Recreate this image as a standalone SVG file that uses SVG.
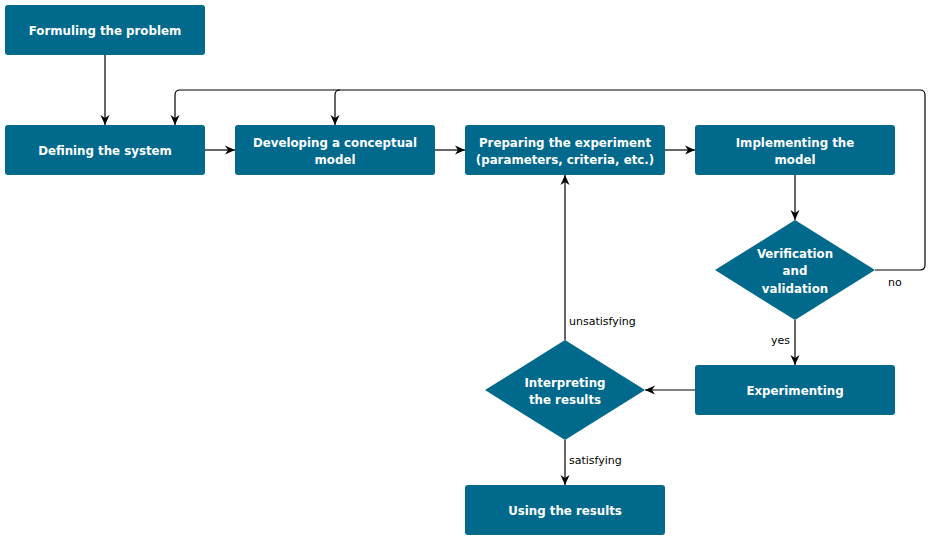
<svg xmlns="http://www.w3.org/2000/svg" width="930" height="540" viewBox="0 0 930 540">
<defs>
<marker id="arr" viewBox="0 0 10 10" refX="10" refY="5" markerWidth="10" markerHeight="10" markerUnits="userSpaceOnUse" orient="auto">
<path d="M0,0.5 L10,5 L0,9.5 L3,5 Z" fill="#000"/>
</marker>
<style>
.box{fill:#00698c;}
.t{font-family:"DejaVu Sans",sans-serif;font-size:11.8px;font-weight:bold;fill:#fff;text-anchor:middle;}
.l{font-family:"DejaVu Sans",sans-serif;font-size:11px;fill:#000;}
.c{fill:none;stroke:#000;stroke-width:1.2;}
</style>
</defs>
<rect width="930" height="540" fill="#fff"/>
<g id="connectors">
<path class="c" d="M105,55 V125" marker-end="url(#arr)"/>
<path class="c" d="M205,150 H235" marker-end="url(#arr)"/>
<path class="c" d="M435,150 H465" marker-end="url(#arr)"/>
<path class="c" d="M665,150 H695" marker-end="url(#arr)"/>
<path class="c" d="M795,175 V220" marker-end="url(#arr)"/>
<path class="c" d="M875,270 H920 Q925,270 925,265 V95 Q925,90 920,90 H180 Q175,90 175,95 V125" marker-end="url(#arr)"/>
<path class="c" d="M340,90 Q335,90 335,95 V125" marker-end="url(#arr)"/>
<path class="c" d="M795,320 V365" marker-end="url(#arr)"/>
<path class="c" d="M695,390 H645" marker-end="url(#arr)"/>
<path class="c" d="M565,340 V175" marker-end="url(#arr)"/>
<path class="c" d="M565,440 V485" marker-end="url(#arr)"/>
<text class="l" x="888" y="286">no</text>
<text class="l" x="771" y="344">yes</text>
<text class="l" x="569" y="325">unsatisfying</text>
<text class="l" x="569" y="464">satisfying</text>
</g>
<g id="n1"><rect class="box" x="5" y="5" width="200" height="50" rx="3"/><text class="t" x="105" y="35">Formuling the problem</text></g>
<g id="n2"><rect class="box" x="5" y="125" width="200" height="50" rx="3"/><text class="t" x="105" y="155">Defining the system</text></g>
<g id="n3"><rect class="box" x="235" y="125" width="200" height="50" rx="3"/><text class="t" x="335" y="147">Developing a conceptual</text><text class="t" x="335" y="164">model</text></g>
<g id="n4"><rect class="box" x="465" y="125" width="200" height="50" rx="3"/><text class="t" x="565" y="147">Preparing the experiment</text><text class="t" x="565" y="164">(parameters, criteria, etc.)</text></g>
<g id="n5"><rect class="box" x="695" y="125" width="200" height="50" rx="3"/><text class="t" x="795" y="147">Implementing the</text><text class="t" x="795" y="164">model</text></g>
<g id="n6"><polygon class="box" points="795,220 875,270 795,320 715,270"/><text class="t" x="795" y="258">Verification</text><text class="t" x="795" y="275">and</text><text class="t" x="795" y="293">validation</text></g>
<g id="n7"><rect class="box" x="695" y="365" width="200" height="50" rx="3"/><text class="t" x="795" y="395">Experimenting</text></g>
<g id="n8"><polygon class="box" points="565,340 645,390 565,440 485,390"/><text class="t" x="565" y="387">Interpreting</text><text class="t" x="565" y="404">the results</text></g>
<g id="n9"><rect class="box" x="465" y="485" width="200" height="50" rx="3"/><text class="t" x="565" y="515">Using the results</text></g>
</svg>
